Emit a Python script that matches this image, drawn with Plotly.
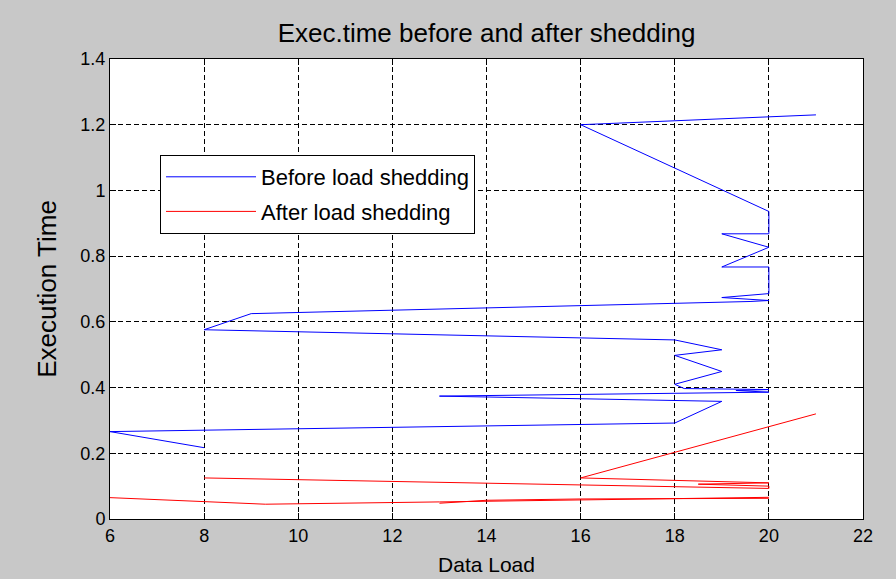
import plotly.graph_objects as go

# Data load (x) and execution time (y), in drawing order
before_load = [8, 6, 18, 19, 13, 20, 19.3, 20, 18.2, 18, 19, 18, 19, 18, 8, 9,
               19.6, 20, 19, 20, 20, 19, 20, 19, 20, 20, 16, 21]
before_time = [0.217, 0.266, 0.292, 0.358, 0.374, 0.386, 0.391, 0.394, 0.397, 0.41,
               0.449, 0.498, 0.515, 0.545, 0.576, 0.625, 0.662, 0.665, 0.674, 0.686,
               0.767, 0.767, 0.827, 0.868, 0.868, 0.936, 1.2, 1.23]

after_load = [6, 9.3, 13, 16, 20, None, 13, 14, 16, 20, None,
              8, 18, 20, 20, 19, 20, 18.5, 20, 16, 21]
after_time = [0.065, 0.045, 0.052, 0.058, 0.066, None, 0.048, 0.057, 0.061, 0.063, None,
              0.125, 0.097, 0.093, 0.1, 0.104, 0.1, 0.106, 0.11, 0.125, 0.32]

x_ticks = [6, 8, 10, 12, 14, 16, 18, 20, 22]
y_ticks = [0, 0.2, 0.4, 0.6, 0.8, 1.0, 1.2, 1.4]
y_tick_labels = ["0", "0.2", "0.4", "0.6", "0.8", "1", "1.2", "1.4"]

FONT = "Liberation Sans, Arial, sans-serif"

fig = go.Figure()
fig.add_trace(go.Scatter(x=before_load, y=before_time, mode="lines",
                         name="Before load shedding", legendgroup="a",
                         line=dict(color="#0000ff", width=1)))
fig.add_trace(go.Scatter(x=after_load, y=after_time, mode="lines",
                         name="After load shedding", legendgroup="b", connectgaps=False,
                         line=dict(color="#ff0000", width=1)))

axis_common = dict(showline=True, linecolor="black", linewidth=1, mirror="ticks",
                   ticks="inside", ticklen=6, tickcolor="black",
                   showgrid=True, gridcolor="black", gridwidth=1, griddash="5px,3px",
                   zeroline=False, tickfont=dict(family=FONT, size=18, color="black"))

fig.update_xaxes(range=[6, 22], tickvals=x_ticks, automargin=False,
                 title=dict(text="Data Load", font=dict(family=FONT, size=21, color="black"),
                            standoff=12),
                 **axis_common)
fig.update_yaxes(range=[0, 1.4], tickvals=y_ticks, ticktext=y_tick_labels,
                 title=dict(text="Execution Time", font=dict(family=FONT, size=26, color="black"),
                            standoff=16),
                 **axis_common)

fig.update_layout(
    width=896, height=579,
    paper_bgcolor="#c8c8c8", plot_bgcolor="white",
    margin=dict(l=110, r=33, t=59, b=60),
    title=dict(text="Exec.time before and after shedding", x=0.5, xref="paper",
               xanchor="center", y=1 - 33 / 579, yref="container", yanchor="middle",
               font=dict(family=FONT, size=26, color="black")),
    legend=dict(x=(160 - 110) / 753, y=(519 - 155) / 460, xanchor="left", yanchor="top",
                bgcolor="white", bordercolor="black", borderwidth=1,
                font=dict(family=FONT, size=22, color="black"), itemwidth=90,
                tracegroupgap=3),
    showlegend=True,
)

fig.write_html("out.html", config={"displayModeBar": False},
               post_script="document.body.style.margin='0';")
